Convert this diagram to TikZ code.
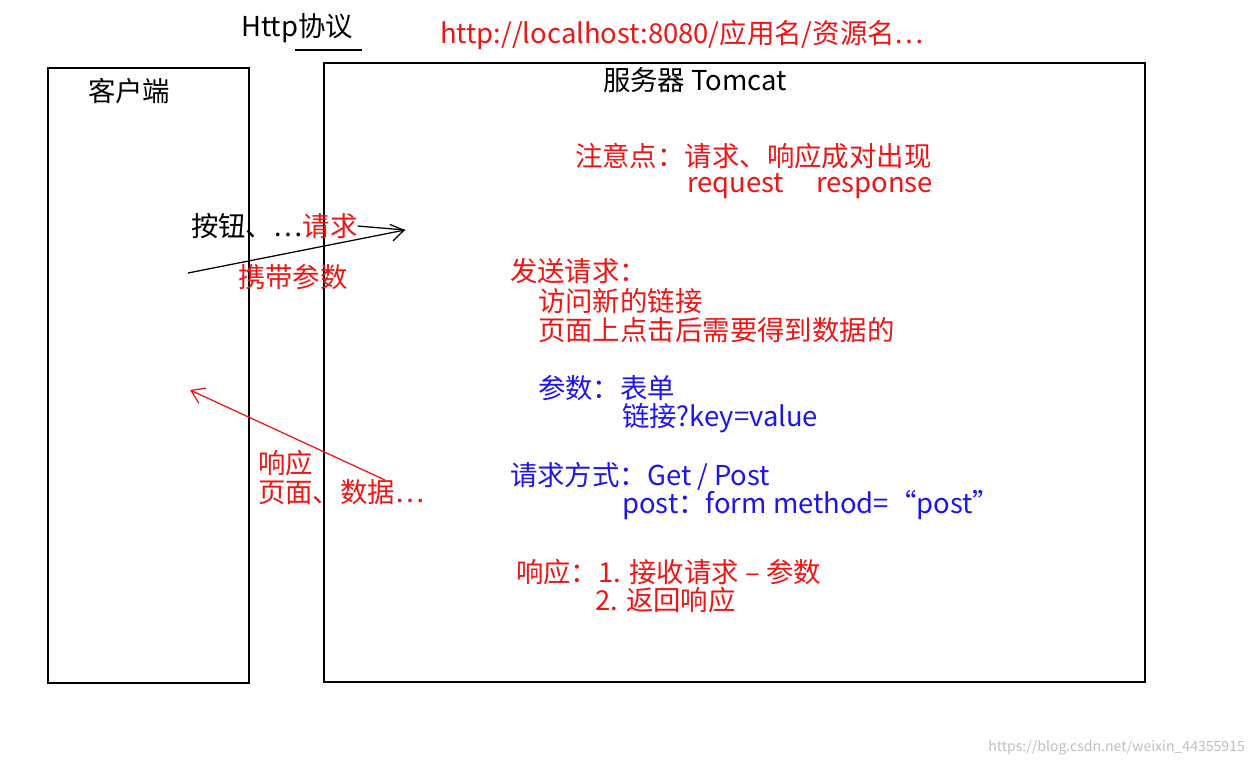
\documentclass[tikz,border=0pt]{standalone}
\usepackage{fontspec}
\setmainfont{Noto Sans CJK SC}
\usetikzlibrary{arrows.meta}
\definecolor{rd}{RGB}{240,20,20}
\definecolor{bl}{RGB}{30,20,240}
\begin{document}
\begin{tikzpicture}[x=0.05cm,y=-0.05cm,
  t/.style={anchor=west,inner sep=0pt,font=\fontsize{39}{44}\selectfont},
  box/.style={draw,line width=2pt},
  arr/.style={line width=1.8pt,-{Straight Barb[length=18pt,width=24pt,line width=1.8pt]}}]
\useasboundingbox (0,0) rectangle (1253,766);
\draw[box] (48,68) rectangle (249,683);
\draw[box] (324,63) rectangle (1145,682);
\node[t] (http) at (241,28) {Http协议};
\draw[line width=2pt] (295,50) -- (362,50);
\node[t,text=rd] (url) at (440,35) {http://localhost:8080/应用名/资源名…};
\node[t] (client) at (88,91) {客户端};
\node[t] (server) at (603,80) {服务器 Tomcat};
\node[t,text=rd] (n1) at (575,156) {注意点：请求、响应成对出现};
\node[t,text=rd] (n2) at (687,186) {request\hspace{1.6cm}response};
\node[t] (btn) at (191,226) {按钮、…};
\node[t,text=rd,anchor=west] (req) at (btn.east) {请求};
\coordinate (a1) at (188,273);
\coordinate (a2) at (405,230);
\draw[arr] (a1) -- (a2);
\draw[line width=1.8pt] (req.east) -- (a2);
\node[t,text=rd] (carry) at (238,277) {携带参数};
\coordinate (b1) at (385,480);
\coordinate (b2) at (190,390);
\draw[arr,rd] (b1) -- (b2);
\node[t,text=rd] (resp) at (258,463) {响应};
\node[t,text=rd] (resp2) at (258,492) {页面、数据…};
\node[t,text=rd] (s1) at (510,271) {发送请求：};
\node[t,text=rd] (s2) at (538,301) {访问新的链接};
\node[t,text=rd] (s3) at (538,330) {页面上点击后需要得到数据的};
\node[t,text=bl] (p1) at (538,388) {参数：表单};
\node[t,text=bl] (p2) at (622,418) {链接?key=value};
\node[t,text=bl] (m1) at (510,476) {请求方式：Get / Post};
\node[t,text=bl] (m2) at (622,505) {post：form method=“post”};
\node[t,text=rd] (r1) at (516,572) {响应：1. 接收请求 – 参数};
\node[t,text=rd] (r2) at (595,600) {2. 返回响应};
\node[anchor=east,inner sep=0pt,text=black!25,font=\fontsize{20}{22}\selectfont] (wm) at (1245,748) {https://blog.csdn.net/weixin\_44355915};
\end{tikzpicture}
\end{document}
